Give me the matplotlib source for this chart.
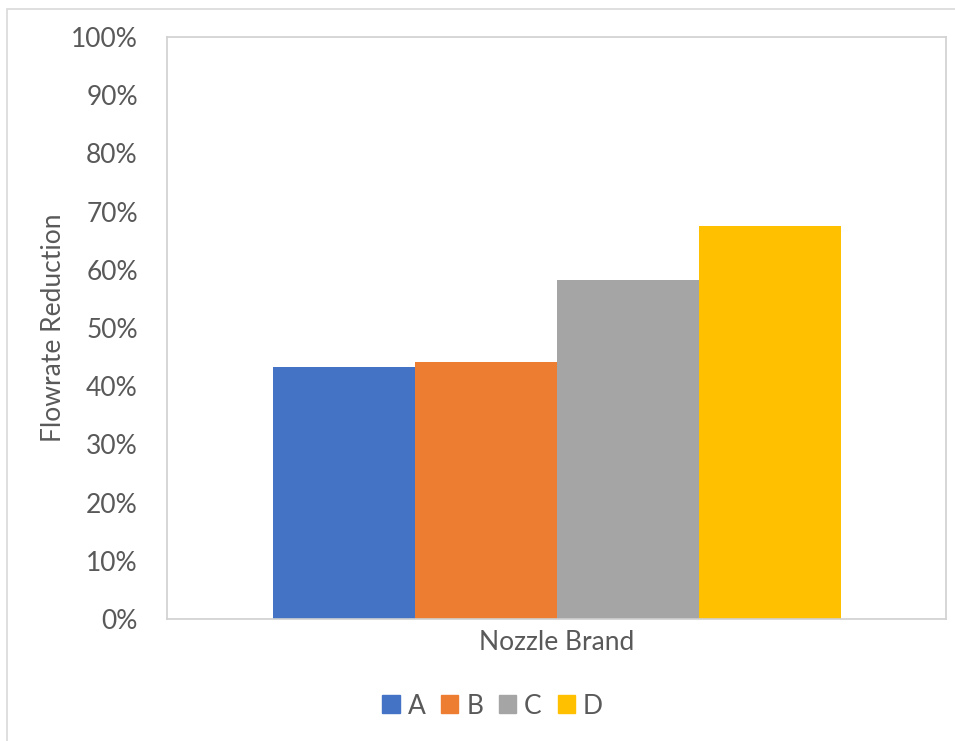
import matplotlib.pyplot as plt
import matplotlib.patches as mpatches
import numpy as np

# 노즐 브랜드별 유량 감소율
brands = ["A", "B", "C", "D"]
reduction = [43.3, 44.1, 58.2, 67.6]
colors = ["#4472C4", "#ED7D31", "#A5A5A5", "#FFC000"]
yticks = np.arange(0, 101, 10)

W, H = 955, 741
plt.rcParams['font.family'] = ['Lato', 'DejaVu Sans']
text_color = "#595959"

fig = plt.figure(figsize=(W / 100, H / 100), dpi=100)

# 바깥 차트 영역 테두리 (왼쪽/위쪽만 보임)
fig.patches.append(mpatches.Rectangle((7 / W, -0.1), 1.2, 1 - 9 / H + 0.1,
                                      transform=fig.transFigure, fill=False,
                                      edgecolor="#d9d9d9", linewidth=1.2))

# 플롯 영역
ax = fig.add_axes([167 / W, 1 - 619 / H, (946 - 167) / W, (619 - 37) / H])
x = np.arange(len(brands))
ax.bar(x, reduction, width=1.0, color=colors, label=brands)

ax.set_xlim(-1.246, 4.239)
ax.set_ylim(0, 100)
ax.set_yticks(yticks)
ax.set_yticklabels([f"{v}%" for v in yticks], fontsize=19, color=text_color)
ax.set_xticks([])
ax.tick_params(axis='y', length=0, pad=21)

for s in ax.spines.values():
    s.set_color("#d0d0d0")
    s.set_linewidth(1.2)

ax.set_ylabel("Flowrate Reduction", fontsize=19, color=text_color)
ax.yaxis.set_label_coords(-0.13, 0.5)
ax.set_xlabel("Nozzle Brand", fontsize=19, color=text_color, labelpad=8)

# 범례
handles = [mpatches.Patch(color=c, label=b) for b, c in zip(brands, colors)]
fig.legend(handles=handles, loc='center', bbox_to_anchor=(0.5157, 1 - 706 / H),
           ncol=4, frameon=False, fontsize=19, labelcolor=text_color,
           handlelength=0.65, handleheight=0.65, handletextpad=0.3,
           columnspacing=0.6)

plt.savefig("out.png", dpi=100)
